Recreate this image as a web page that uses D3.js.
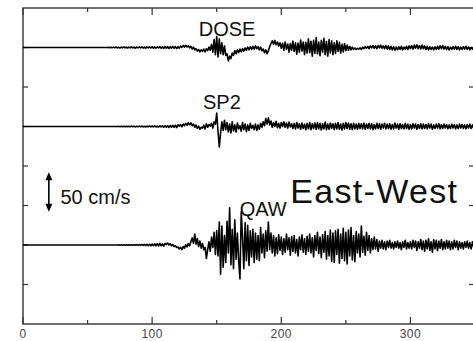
<!DOCTYPE html>
<html>
<head>
<meta charset="utf-8">
<script src="https://cdn.jsdelivr.net/npm/d3@7"></script>
<style>
  body { margin: 0; background: #fff; }
  svg { display: block; font-family: "Liberation Sans", Arial, sans-serif; }
</style>
</head>
<body>
<div id="chart"></div>
<script>
// seismograms, east-west component, samples every 1 s starting at t0 (cm/s)
const t0 = 60;
const dt = 1;
const stations = ["DOSE", "SP2", "QAW"];
const offsets = [350, 250, 100];   // trace baselines on the cm/s axis
const xTicks = [0, 100, 200, 300];

const dose = [
  0,0,0,0,0,0,0.3,-0.3,0.4,-0.3,
  0.5,-0.4,0.6,-0.5,0.3,-0.6,0.5,-0.4,0.7,-0.5,
  0.6,-0.7,0.5,-0.4,0.8,-0.6,0.5,-0.8,0.6,-0.5,
  0.7,-0.6,0.9,-0.7,0.6,-0.8,0.7,-0.5,0.9,-0.7,
  1.0,-0.8,0.7,-1.0,0.9,-0.6,1.1,-0.9,0.8,-1.1,
  1.2,-0.9,1.0,-1.3,1.1,-0.8,1.3,-1.0,1.2,-1.4,
  1.0,-0.8,1.8,0.2,2.5,0.5,2.8,0.6,2.2,-0.5,
  1.5,-1.8,0.5,-3.0,-1.5,-4.5,-2.5,-5.5,-3.0,-4.8,
  -2.0,-5.5,-1.5,-4.0,0.5,-3.5,4.0,-6.0,10.0,-9.0,
  14.0,-12.0,11.0,-8.0,6.0,-9.0,2.0,-10.0,-8.0,-17.0,
  -11.0,-14.0,-7.0,-10.0,-4.0,-8.0,-3.0,-6.5,-2.0,-5.5,
  -1.5,-4.5,-0.5,-3.5,0.5,-3.0,1.0,-2.5,1.5,-2.0,
  2.0,-1.5,1.0,-3.0,0.5,-4.0,-2.0,-6.5,-3.0,-8.0,
  -4.0,1.0,5.0,8.5,4.0,9.0,3.5,7.0,2.0,6.0,
  -1.0,5.5,-3.5,7.0,-2.0,4.5,-6.0,5.0,-3.5,8.0,
  -5.0,6.0,-8.5,5.5,-6.0,9.5,-4.5,7.0,-9.0,6.5,
  -7.0,11.0,-6.5,8.0,-11.0,9.0,-7.5,12.5,-8.0,7.0,
  -10.5,9.0,-6.0,11.5,-9.0,7.5,-11.0,10.0,-7.0,8.5,
  -9.0,6.0,-7.5,8.5,-5.0,6.5,-7.0,4.0,-5.5,5.0,
  -4.0,3.0,-3.5,1.5,-3.0,0.5,-2.5,-0.5,-2.5,-1.0,
  -2.0,-0.5,-2.5,0.5,-1.5,1.0,-1.0,1.5,-1.5,2.0,
  -0.5,2.5,-1.0,2.0,-1.5,2.5,-0.5,3.0,-1.0,2.0,
  -1.5,2.5,-2.0,2.0,-2.5,1.5,-3.0,1.0,-3.5,0.5,
  -3.0,1.0,-2.5,1.5,-3.0,0.5,-2.0,1.5,-2.5,2.0,
  -1.5,2.5,-2.0,3.0,-1.0,3.5,-1.5,2.5,-2.0,3.0,
  -1.5,2.0,-2.5,1.5,-3.0,1.0,-2.5,0.5,-3.0,1.0,
  -2.5,1.5,-2.0,2.0,-1.5,2.5,-2.0,1.5,-2.5,1.0,
  -3.0,0.5,-2.5,1.0,-2.0,1.5,-2.5,1.0,-3.0,0.5,
  -2.5,1.0,-2.0,1.5,-2.5,0.5,-3.0,0.0,-2.0,0.5,-1.5
];

const sp2 = [
  0,0,0,0,0,0,0,0,0,0,
  0,0,0,0,0.2,-0.2,0.3,-0.2,0.3,-0.3,
  0.4,-0.3,0.3,-0.4,0.5,-0.3,0.4,-0.5,0.3,-0.4,
  0.5,-0.4,0.6,-0.5,0.4,-0.6,0.5,-0.4,0.7,-0.5,
  0.6,-0.5,0.8,-0.6,0.5,-0.7,0.9,-0.6,0.7,-0.8,
  1.0,-0.8,0.9,-1.1,1.2,-0.9,1.5,-1.2,1.8,-1.4,
  2.0,0.5,2.5,-0.5,3.0,1.0,4.0,1.5,5.0,2.0,
  4.5,1.0,3.0,-1.0,2.0,-2.5,0.5,-3.5,-1.0,-2.0,
  1.5,-3.0,3.5,-1.0,2.5,0.5,4.0,-2.0,6.0,3.0,
  17.0,-6.0,-26.0,-8.0,6.0,-5.0,8.0,-4.0,5.0,-7.0,
  3.0,-8.0,6.0,-5.5,2.0,-7.0,4.5,-3.0,1.0,-6.0,
  5.0,-4.0,3.0,-6.5,2.0,-5.0,4.0,-2.5,1.5,-4.0,
  3.0,-5.0,2.0,-3.5,4.0,-1.0,6.0,1.0,10.0,3.0,
  11.0,2.0,7.0,-1.0,5.0,0.0,6.5,-1.5,4.0,-2.0,
  5.0,0.0,6.0,-1.0,4.5,-2.0,5.5,-0.5,3.5,-2.5,
  4.0,-3.0,5.0,-2.0,3.5,-3.5,4.5,-2.5,3.0,-4.0,
  4.0,-3.0,5.0,-4.0,3.5,-2.5,4.5,-3.5,5.0,-3.0,
  4.0,-4.5,3.5,-3.0,5.5,-4.0,3.0,-3.5,4.5,-2.5,
  3.5,-4.0,4.0,-3.0,5.0,-3.5,3.0,-4.5,4.0,-3.0,
  5.0,-2.5,4.5,-3.5,3.5,-4.0,4.0,-3.0,3.0,-3.5,
  4.0,-2.5,3.5,-3.0,4.5,-3.5,3.0,-2.5,4.0,-3.0,
  3.5,-4.0,2.5,-3.0,4.0,-2.5,3.5,-3.5,3.0,-2.0,
  4.0,-3.0,3.0,-2.5,3.5,-3.5,2.5,-3.0,4.5,-2.0,
  3.0,-3.5,3.5,-2.5,2.5,-3.0,4.0,-2.5,3.0,-3.5,
  2.5,-3.0,3.5,-2.0,3.0,-3.5,2.5,-2.5,3.5,-3.0,
  3.0,-2.5,2.5,-3.0,3.5,-2.0,3.0,-3.5,2.0,-2.5,
  3.0,-2.0,3.5,-3.0,2.5,-2.5,3.0,-2.0,2.5,-3.0,
  2.0,-2.5,3.0,-2.0,2.5,-3.0,2.0,-2.5,3.0,-2.0,
  2.5,-2.5,2.0,-3.0,2.5,-2.0,3.0,-2.5,2.0,-2.0,1.5
];

const qaw = [
  0,0,0,0,0,0,0,0,0,0,
  0,0,0,0,0.2,-0.2,0.2,-0.2,0.3,-0.2,
  0.3,-0.3,0.4,-0.3,0.3,-0.4,0.4,-0.3,0.4,-0.4,
  0.5,-0.5,0.7,-0.6,0.8,-0.7,1.0,-0.8,0.9,-1.0,
  1.2,-0.8,1.5,-1.0,1.8,-1.2,2.0,-1.0,1.5,-1.5,
  2.0,0.5,2.5,0.0,1.5,-1.0,0.5,-2.0,-1.0,-3.0,
  -2.5,-5.0,-3.0,-6.0,-2.0,-4.0,0.5,-2.5,2.0,-1.0,
  4.0,9.0,2.0,14.0,1.0,8.0,-2.0,5.0,-4.0,2.0,
  -6.0,-3.0,-17.0,-6.0,4.0,-8.0,10.0,-3.0,16.0,-12.0,
  18.0,-14.0,29.0,-37.0,24.0,-28.0,12.0,-22.0,30.0,-10.0,
  47.0,-25.0,20.0,-30.0,32.0,-18.0,15.0,-20.0,-43.0,42.0,
  10.0,-30.0,28.0,-20.0,25.0,-26.0,18.0,-15.0,20.0,-22.0,
  15.0,-18.0,12.0,-20.0,22.0,-10.0,14.0,-16.0,18.0,-8.0,
  29.0,-6.0,15.0,-10.0,12.0,-14.0,9.0,-11.0,13.0,-7.0,
  10.0,-12.0,8.0,-9.0,14.0,-6.0,9.0,-13.0,11.0,-8.0,
  12.0,-10.0,7.0,-14.0,10.0,-6.0,13.0,-9.0,8.0,-12.0,
  11.0,-8.0,14.0,-10.0,9.0,-15.0,12.0,-7.0,16.0,-11.0,
  10.0,-16.0,13.0,-9.0,17.0,-18.0,12.0,-14.0,19.0,-21.0,
  15.0,-22.0,18.0,-12.0,20.0,-23.0,14.0,-17.0,21.0,-20.0,
  16.0,-24.0,19.0,-14.0,22.0,-19.0,12.0,-21.0,17.0,-10.0,
  14.0,-15.0,24.0,-9.0,11.0,-13.0,16.0,-7.0,12.0,-10.0,
  8.0,-6.0,10.0,-5.0,7.0,-8.0,5.0,-4.0,6.0,-5.0,
  4.0,-6.0,5.0,-3.0,6.0,-4.0,3.0,-5.0,4.0,-3.0,
  5.0,-4.0,3.0,-6.0,4.0,-3.0,6.0,-5.0,3.0,-4.0,
  4.0,-5.0,6.0,-3.0,5.0,-7.0,4.0,-4.0,7.0,-6.0,
  5.0,-8.0,6.0,-5.0,8.0,-7.0,4.0,-9.0,7.0,-5.0,
  6.0,-7.0,5.0,-4.0,7.0,-6.0,4.0,-5.0,6.0,-4.0,
  5.0,-6.0,4.0,-5.0,6.0,-3.0,5.0,-6.0,4.0,-4.0,
  3.0,-5.0,4.0,-3.0,5.0,-4.0,3.0,-5.0,4.0,-3.0,2.0
];

const traces = [dose, sp2, qaw];

const width = 473, height = 341;
const margin = { top: 8, right: -2, bottom: 17, left: 23 };

const svg = d3.select("#chart")
  .append("svg")
  .attr("width", width)
  .attr("height", height);

const x = d3.scaleLinear()
  .domain([0, 350])
  .range([margin.left, width - margin.right]);

const y = d3.scaleLinear()
  .domain([0, 400])
  .range([height - margin.bottom, margin.top]);

const frameColor = "#333";

// frame
svg.append("rect")
  .attr("x", x(0))
  .attr("y", y(400))
  .attr("width", x(350) - x(0))
  .attr("height", y(0) - y(400))
  .attr("fill", "none")
  .attr("stroke", frameColor)
  .attr("stroke-width", 1.4);

// x ticks (bottom and top), pointing inside
const xMinor = d3.range(50, 350, 100);
const bottomAxis = svg.append("g");
bottomAxis.selectAll(".maj").data(xTicks).enter().append("line")
  .attr("x1", d => x(d)).attr("x2", d => x(d))
  .attr("y1", y(0)).attr("y2", y(0) - 7)
  .attr("stroke", frameColor).attr("stroke-width", 1.2);
bottomAxis.selectAll(".min").data(xMinor).enter().append("line")
  .attr("x1", d => x(d)).attr("x2", d => x(d))
  .attr("y1", y(0)).attr("y2", y(0) - 4)
  .attr("stroke", frameColor).attr("stroke-width", 1.2);
bottomAxis.selectAll("text").data(xTicks).enter().append("text")
  .attr("x", d => x(d))
  .attr("y", 338)
  .attr("text-anchor", "middle")
  .style("font-size", "12px")
  .style("letter-spacing", "0.5px")
  .attr("fill", "#444")
  .text(d => d);

const topAxis = svg.append("g");
topAxis.selectAll(".maj").data(xTicks).enter().append("line")
  .attr("x1", d => x(d)).attr("x2", d => x(d))
  .attr("y1", y(400)).attr("y2", y(400) + 7)
  .attr("stroke", frameColor).attr("stroke-width", 1.2);
topAxis.selectAll(".min").data(xMinor).enter().append("line")
  .attr("x1", d => x(d)).attr("x2", d => x(d))
  .attr("y1", y(400)).attr("y2", y(400) + 4)
  .attr("stroke", frameColor).attr("stroke-width", 1.2);

// y ticks every 50 cm/s on left and right
const yTicks = d3.range(50, 400, 50);
svg.selectAll(".ytl").data(yTicks).enter().append("line")
  .attr("x1", x(0)).attr("x2", x(0) + 5)
  .attr("y1", d => y(d)).attr("y2", d => y(d))
  .attr("stroke", frameColor).attr("stroke-width", 1.2);
svg.selectAll(".ytr").data(yTicks).enter().append("line")
  .attr("x1", x(350)).attr("x2", x(350) - 6)
  .attr("y1", d => y(d)).attr("y2", d => y(d))
  .attr("stroke", frameColor).attr("stroke-width", 1.2);

// traces
const line = d3.line()
  .x(d => x(d[0]))
  .y(d => y(d[1]));

traces.forEach((vals, i) => {
  const pts = [[0, offsets[i]]].concat(vals.map((v, j) => [t0 + j * dt, offsets[i] + v]));
  svg.append("path")
    .datum(pts)
    .attr("d", line)
    .attr("fill", "none")
    .attr("stroke", "#000")
    .attr("stroke-width", 1.6)
    .attr("stroke-linejoin", "round");
});

// station labels
const labelPos = [[158, 365], [154, 272], [186, 137]];
stations.forEach((s, i) => {
  svg.append("text")
    .attr("x", x(labelPos[i][0]))
    .attr("y", y(labelPos[i][1]))
    .attr("text-anchor", "middle")
    .style("font-size", "20px")
    .attr("fill", "#111")
    .text(s);
});

// component label
svg.append("text")
  .attr("x", x(207))
  .attr("y", y(153))
  .style("font-size", "34px")
  .style("letter-spacing", "1.3px")
  .attr("fill", "#111")
  .text("East-West");

// scale bar: 50 cm/s
const barT = 20, barLo = 142, barHi = 192;
svg.append("line")
  .attr("x1", x(barT)).attr("x2", x(barT))
  .attr("y1", y(barHi) + 6).attr("y2", y(barLo) - 6)
  .attr("stroke", "#000").attr("stroke-width", 1.6);
[[barHi, 1], [barLo, -1]].forEach(([v, s]) => {
  const px = x(barT), py = y(v);
  svg.append("path")
    .attr("d", `M${px},${py} L${px - 3.5},${py + s * 8} L${px + 3.5},${py + s * 8} Z`)
    .attr("fill", "#000");
});
svg.append("text")
  .attr("x", x(29))
  .attr("y", y(152))
  .style("font-size", "20px")
  .attr("fill", "#111")
  .text("50 cm/s");
</script>
</body>
</html>
